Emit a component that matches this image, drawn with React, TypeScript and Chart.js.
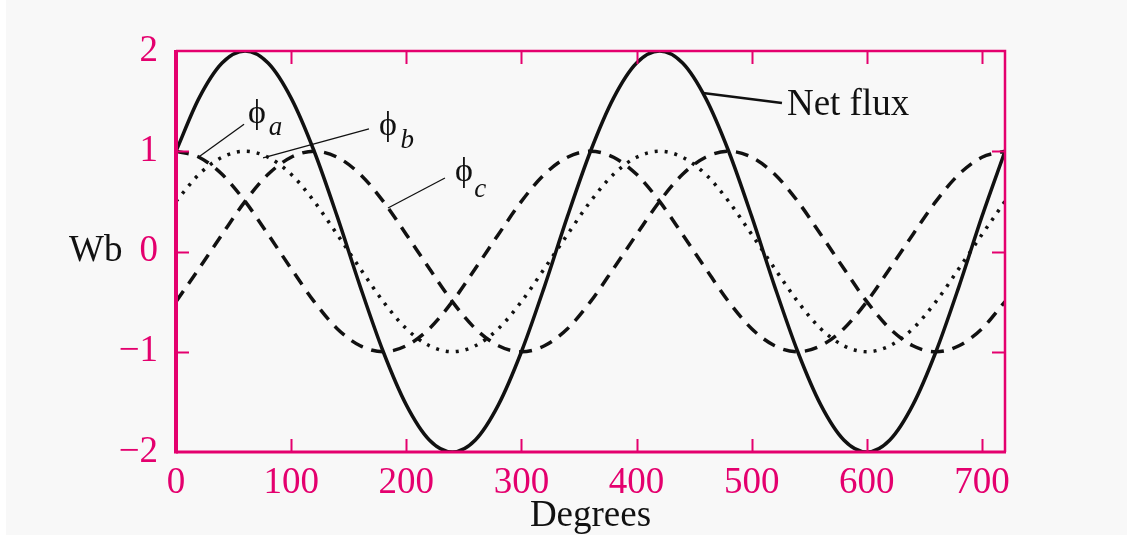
import React, { useEffect, useRef } from "react";
import { Chart, registerables } from "chart.js";

Chart.register(...registerables);

// Electrical angle in degrees, sampled every 20°
const DEGREES = [
  0, 20, 40, 60, 80, 100, 120, 140, 160, 180, 200, 220, 240, 260, 280, 300, 320, 340, 360,
  380, 400, 420, 440, 460, 480, 500, 520, 540, 560, 580, 600, 620, 640, 660, 680, 700, 720,
];

// Flux linkage in Wb
const NET_FLUX = [
  1, 1.53, 1.88, 2, 1.88, 1.53, 1, 0.35, -0.35, -1, -1.53, -1.88, -2, -1.88, -1.53, -1, -0.35, 0.35, 1,
  1.53, 1.88, 2, 1.88, 1.53, 1, 0.35, -0.35, -1, -1.53, -1.88, -2, -1.88, -1.53, -1, -0.35, 0.35, 1,
];
const PHI_A = [
  1, 0.94, 0.77, 0.5, 0.17, -0.17, -0.5, -0.77, -0.94, -1, -0.94, -0.77, -0.5, -0.17, 0.17, 0.5, 0.77, 0.94, 1,
  0.94, 0.77, 0.5, 0.17, -0.17, -0.5, -0.77, -0.94, -1, -0.94, -0.77, -0.5, -0.17, 0.17, 0.5, 0.77, 0.94, 1,
];
const PHI_B = [
  0.5, 0.77, 0.94, 1, 0.94, 0.77, 0.5, 0.17, -0.17, -0.5, -0.77, -0.94, -1, -0.94, -0.77, -0.5, -0.17, 0.17, 0.5,
  0.77, 0.94, 1, 0.94, 0.77, 0.5, 0.17, -0.17, -0.5, -0.77, -0.94, -1, -0.94, -0.77, -0.5, -0.17, 0.17, 0.5,
];
const PHI_C = [
  -0.5, -0.17, 0.17, 0.5, 0.77, 0.94, 1, 0.94, 0.77, 0.5, 0.17, -0.17, -0.5, -0.77, -0.94, -1, -0.94, -0.77, -0.5,
  -0.17, 0.17, 0.5, 0.77, 0.94, 1, 0.94, 0.77, 0.5, 0.17, -0.17, -0.5, -0.77, -0.94, -1, -0.94, -0.77, -0.5,
];

const X_TICKS = [0, 100, 200, 300, 400, 500, 600, 700];
const Y_TICKS = [-2, -1, 0, 1, 2];

const PINK = "#e4006e";
const INK = "#111111";
const SERIF = '"Liberation Serif", "Times New Roman", serif';
const LABEL_SIZE = 37;

type Pt = [number, number];
type Callout = {
  symbol: string;
  sub: string;
  symbolAt: Pt;
  subAt: Pt;
  leader: [Pt, Pt];
};

// Curve callouts, positioned in data units (degrees, Wb)
const CALLOUTS: Callout[] = [
  { symbol: "\u03D5", sub: "a", symbolAt: [62.5, 1.28], subAt: [80.5, 1.16], leader: [[59.1, 1.27], [18.8, 0.936]] },
  { symbol: "\u03D5", sub: "b", symbolAt: [176.3, 1.16], subAt: [195, 1.032], leader: [[167.6, 1.222], [75.6, 0.933]] },
  { symbol: "\u03D5", sub: "c", symbolAt: [242.3, 0.703], subAt: [259, 0.544], leader: [[233.6, 0.733], [184.1, 0.434]] },
];
const NET_LABEL = { text: "Net flux", at: [530.6, 1.361] as Pt, leader: [[457.7, 1.581], [526.3, 1.481]] as [Pt, Pt] };

const toPoints = (ys: number[]) => DEGREES.map((x, i) => ({ x, y: ys[i] }));

const framePlugin = {
  id: "frameAndLabels",
  beforeDraw(chart: any) {
    const { ctx, width, height } = chart;
    ctx.save();
    ctx.fillStyle = "#ffffff";
    ctx.fillRect(0, 0, width, height);
    ctx.fillStyle = "#f8f8f8";
    ctx.fillRect(6, 0, width - 6, height);
    ctx.restore();
  },
  afterDatasetsDraw(chart: any) {
    const { ctx, chartArea: a, scales } = chart;
    const xs = scales.x;
    const ys = scales.y;
    const TICK = 13;
    ctx.save();
    ctx.strokeStyle = PINK;
    ctx.lineCap = "butt";

    // inward tick marks on all four sides
    ctx.lineWidth = 2;
    ctx.beginPath();
    X_TICKS.filter((v) => v > 0).forEach((v) => {
      const px = Math.round(xs.getPixelForValue(v)) + 0.5;
      ctx.moveTo(px, a.bottom);
      ctx.lineTo(px, a.bottom - TICK);
      ctx.moveTo(px, a.top);
      ctx.lineTo(px, a.top + TICK);
    });
    Y_TICKS.filter((v) => v > -2 && v < 2).forEach((v) => {
      const py = Math.round(ys.getPixelForValue(v)) + 0.5;
      ctx.moveTo(a.left, py);
      ctx.lineTo(a.left + TICK, py);
      ctx.moveTo(a.right, py);
      ctx.lineTo(a.right - TICK, py);
    });
    ctx.stroke();

    // frame: heavier on the left and bottom
    ctx.lineWidth = 2.5;
    ctx.beginPath();
    ctx.moveTo(a.left, a.top);
    ctx.lineTo(a.right, a.top);
    ctx.lineTo(a.right, a.bottom);
    ctx.stroke();
    ctx.lineWidth = 3;
    ctx.beginPath();
    ctx.moveTo(a.left, a.bottom);
    ctx.lineTo(a.right + 1, a.bottom);
    ctx.stroke();
    ctx.lineWidth = 4;
    ctx.beginPath();
    ctx.moveTo(a.left, a.top - 1);
    ctx.lineTo(a.left, a.bottom + 1.5);
    ctx.stroke();
    ctx.restore();
  },
  afterDraw(chart: any) {
    const { ctx, chartArea: a, scales } = chart;
    const xs = scales.x;
    const ys = scales.y;
    const P = (p: Pt) => [xs.getPixelForValue(p[0]), ys.getPixelForValue(p[1])];
    ctx.save();
    ctx.fillStyle = INK;
    ctx.strokeStyle = INK;
    ctx.textBaseline = "alphabetic";
    ctx.textAlign = "left";

    // callouts for the phase fluxes
    CALLOUTS.forEach((c) => {
      const [l0x, l0y] = P(c.leader[0]);
      const [l1x, l1y] = P(c.leader[1]);
      ctx.lineWidth = 1.3;
      ctx.beginPath();
      ctx.moveTo(l0x, l0y);
      ctx.lineTo(l1x, l1y);
      ctx.stroke();
      const [sx, sy] = P(c.symbolAt);
      ctx.font = `34px ${SERIF}`;
      ctx.fillText(c.symbol, sx, sy);
      const [bx, by] = P(c.subAt);
      ctx.font = `italic 27px ${SERIF}`;
      ctx.fillText(c.sub, bx, by);
    });

    // net flux callout
    {
      const [l0x, l0y] = P(NET_LABEL.leader[0]);
      const [l1x, l1y] = P(NET_LABEL.leader[1]);
      ctx.lineWidth = 2.5;
      ctx.beginPath();
      ctx.moveTo(l0x, l0y);
      ctx.lineTo(l1x, l1y);
      ctx.stroke();
      const [tx, ty] = P(NET_LABEL.at);
      ctx.font = `${LABEL_SIZE}px ${SERIF}`;
      ctx.fillText(NET_LABEL.text, tx, ty);
    }

    // axis titles
    ctx.font = `${LABEL_SIZE}px ${SERIF}`;
    ctx.textAlign = "left";
    ctx.fillText("Wb", 69, ys.getPixelForValue(0) + 9);
    ctx.textAlign = "center";
    ctx.fillText("Degrees", (a.left + a.right) / 2, 526);
    ctx.restore();
  },
};

export default function App() {
  const canvasRef = useRef<HTMLCanvasElement | null>(null);

  useEffect(() => {
    const canvas = canvasRef.current;
    if (!canvas) return;
    const chart = new Chart(canvas, {
      type: "line",
      data: {
        datasets: [
          {
            label: "Net flux",
            data: toPoints(NET_FLUX),
            borderColor: INK,
            borderWidth: 3.5,
            pointRadius: 0,
            cubicInterpolationMode: "monotone",
          },
          {
            label: "ϕa",
            data: toPoints(PHI_A),
            borderColor: INK,
            borderWidth: 3.5,
            borderDash: [13, 9],
            pointRadius: 0,
            cubicInterpolationMode: "monotone",
          },
          {
            label: "ϕb",
            data: toPoints(PHI_B),
            borderColor: INK,
            borderWidth: 3.5,
            borderDash: [3, 7],
            pointRadius: 0,
            cubicInterpolationMode: "monotone",
          },
          {
            label: "ϕc",
            data: toPoints(PHI_C),
            borderColor: INK,
            borderWidth: 3.5,
            borderDash: [13, 9],
            pointRadius: 0,
            cubicInterpolationMode: "monotone",
          },
        ],
      },
      options: {
        responsive: false,
        animation: false,
        devicePixelRatio: 1,
        layout: { padding: { left: 0, right: 122, top: 51, bottom: 0 } },
        plugins: {
          legend: { display: false },
          tooltip: { enabled: false },
        },
        scales: {
          x: {
            type: "linear",
            min: 0,
            max: 720,
            grid: { display: false, drawTicks: false },
            border: { display: false },
            afterBuildTicks: (s: any) => {
              s.ticks = X_TICKS.map((value) => ({ value }));
            },
            afterFit: (s: any) => {
              s.height = 83;
            },
            ticks: {
              color: PINK,
              font: { family: SERIF, size: LABEL_SIZE },
              padding: 9,
              maxRotation: 0,
              autoSkip: false,
            },
          },
          y: {
            type: "linear",
            min: -2,
            max: 2,
            grid: { display: false, drawTicks: false },
            border: { display: false },
            afterBuildTicks: (s: any) => {
              s.ticks = Y_TICKS.map((value) => ({ value }));
            },
            afterFit: (s: any) => {
              s.width = 176;
            },
            ticks: {
              color: PINK,
              font: { family: SERIF, size: LABEL_SIZE },
              padding: 18,
              callback: (v: any) => (Number(v) < 0 ? "\u2212" + Math.abs(Number(v)) : String(v)),
            },
          },
        },
      },
      plugins: [framePlugin],
    });
    return () => chart.destroy();
  }, []);

  return (
    <div style={{ position: "absolute", left: 0, top: 0, width: 1127, height: 535 }}>
      <canvas ref={canvasRef} width={1127} height={535} style={{ display: "block" }} />
    </div>
  );
}
